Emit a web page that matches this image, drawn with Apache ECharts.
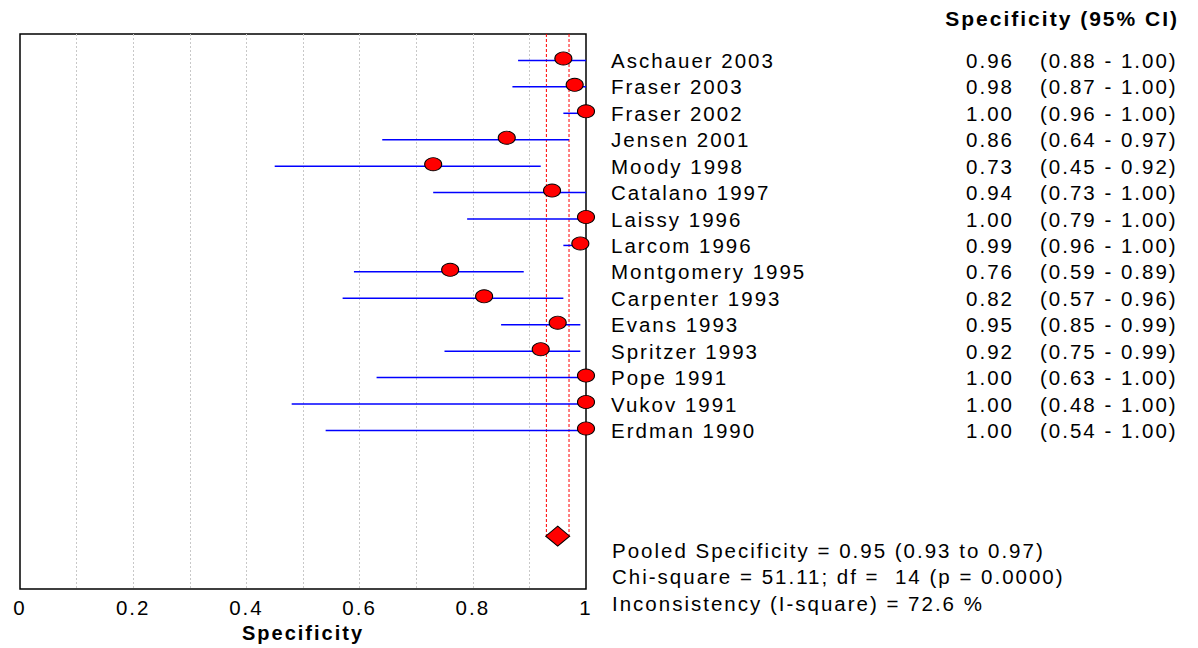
<!DOCTYPE html>
<html>
<head>
<meta charset="utf-8">
<script src="https://cdn.jsdelivr.net/npm/echarts@6/dist/echarts.min.js"></script>
<style>
  html, body { margin: 0; padding: 0; background: #fff; }
  #chart { width: 1198px; height: 648px; letter-spacing: 2px; }
</style>
</head>
<body>
<div id="chart"></div>
<script>
const studies = ['Aschauer 2003', 'Fraser 2003', 'Fraser 2002', 'Jensen 2001', 'Moody 1998',
  'Catalano 1997', 'Laissy 1996', 'Larcom 1996', 'Montgomery 1995', 'Carpenter 1993',
  'Evans 1993', 'Spritzer 1993', 'Pope 1991', 'Vukov 1991', 'Erdman 1990']
const spec = [0.96, 0.98, 1.00, 0.86, 0.73, 0.94, 1.00, 0.99, 0.76, 0.82, 0.95, 0.92, 1.00, 1.00, 1.00]
const ciLow = [0.88, 0.87, 0.96, 0.64, 0.45, 0.73, 0.79, 0.96, 0.59, 0.57, 0.85, 0.75, 0.63, 0.48, 0.54]
const ciHigh = [1.00, 1.00, 1.00, 0.97, 0.92, 1.00, 1.00, 1.00, 0.89, 0.96, 0.99, 0.99, 1.00, 1.00, 1.00]
const pooled = [0.95, 0.93, 0.97] // estimate, low, high
const chiSquare = 51.11
const df = 14
const pValue = '0.0000'
const iSquare = 72.6
const pooledRow = 19

const font = '"Liberation Sans", Arial, sans-serif'
const myChart = echarts.init(document.getElementById('chart'), null, { renderer: 'svg' })

const rowAxis = (label) => ({
  type: 'value',
  min: 0,
  max: 21,
  interval: 1,
  inverse: true,
  position: 'right',
  axisLine: { show: false },
  axisTick: { show: false },
  splitLine: { show: false },
  axisLabel: Object.assign({ color: '#000', fontSize: 20.5, fontFamily: font }, label)
})

myChart.setOption({
  animation: false,
  backgroundColor: '#fff',
  grid: {
    left: 20,
    right: 612,
    top: 34,
    bottom: 59,
    show: true,
    borderColor: '#000',
    borderWidth: 1.5,
    backgroundColor: 'transparent'
  },
  xAxis: {
    type: 'value',
    min: 0,
    max: 1,
    interval: 0.1,
    axisLine: { show: false },
    axisTick: { show: false },
    splitLine: {
      show: true,
      showMinLine: false,
      showMaxLine: false,
      lineStyle: { color: '#c8c8c8', type: [2, 2], width: 1 }
    },
    axisLabel: {
      color: '#000',
      fontSize: 20.5,
      fontFamily: font,
      margin: 8,
      formatter: (v) => Math.round(v * 10) % 2 === 0 ? String(+v.toFixed(1)) : ''
    },
    name: 'Specificity',
    nameLocation: 'middle',
    nameGap: 33,
    nameTextStyle: { color: '#000', fontSize: 20, fontWeight: 'bold', fontFamily: font }
  },
  yAxis: [
    {
      type: 'value',
      min: 0,
      max: 21,
      inverse: true,
      axisLine: { show: false },
      axisTick: { show: false },
      splitLine: { show: false },
      axisLabel: { show: false }
    },
    rowAxis({ margin: 25, align: 'left', formatter: (v) => studies[v - 1] || '' }),
    rowAxis({ margin: 428, align: 'right', formatter: (v) => spec[v - 1] !== undefined ? spec[v - 1].toFixed(2) : '' }),
    rowAxis({
      margin: 454,
      align: 'left',
      formatter: (v) => ciLow[v - 1] !== undefined
        ? '(' + ciLow[v - 1].toFixed(2) + ' - ' + ciHigh[v - 1].toFixed(2) + ')' : ''
    })
  ],
  graphic: [
    {
      type: 'text',
      x: 1179,
      y: 18,
      style: {
        text: 'Specificity (95% CI)',
        font: 'bold 21px ' + font,
        fill: '#000',
        textAlign: 'right',
        textVerticalAlign: 'middle'
      }
    },
    {
      type: 'text',
      x: 612,
      y: 550,
      style: {
        text: 'Pooled Specificity = ' + pooled[0].toFixed(2) + ' (' + pooled[1].toFixed(2) + ' to ' + pooled[2].toFixed(2) + ')',
        font: '20.5px ' + font,
        fill: '#000',
        textVerticalAlign: 'middle'
      }
    },
    {
      type: 'text',
      x: 612,
      y: 576,
      style: {
        text: 'Chi-square = ' + chiSquare.toFixed(2) + '; df =  ' + df + ' (p = ' + pValue + ')',
        font: '20.5px ' + font,
        fill: '#000',
        textVerticalAlign: 'middle'
      }
    },
    {
      type: 'text',
      x: 612,
      y: 603,
      style: {
        text: 'Inconsistency (I-square) = ' + iSquare.toFixed(1) + ' %',
        font: '20.5px ' + font,
        fill: '#000',
        textVerticalAlign: 'middle'
      }
    }
  ],
  series: [
    {
      name: 'CI',
      type: 'custom',
      xAxisIndex: 0,
      yAxisIndex: 0,
      clip: false,
      encode: { x: [0, 1], y: 2 },
      data: studies.map((s, i) => [ciLow[i], ciHigh[i], i + 1]),
      renderItem: (params, api) => {
        const a = api.coord([api.value(0), api.value(2)])
        const b = api.coord([api.value(1), api.value(2)])
        return {
          type: 'line',
          shape: { x1: a[0], y1: a[1], x2: b[0], y2: b[1] },
          style: { stroke: '#0000ff', lineWidth: 1.5 }
        }
      },
      z: 3
    },
    {
      name: 'pooledLow',
      type: 'line',
      symbol: 'none',
      data: [[pooled[1], 0], [pooled[1], pooledRow]],
      lineStyle: { color: '#ff0000', width: 1, type: [3, 2] },
      z: 2
    },
    {
      name: 'pooledHigh',
      type: 'line',
      symbol: 'none',
      data: [[pooled[2], 0], [pooled[2], pooledRow]],
      lineStyle: { color: '#ff0000', width: 1, type: [3, 2] },
      z: 2
    },
    {
      name: 'Specificity',
      type: 'scatter',
      clip: false,
      symbol: 'circle',
      symbolSize: [17, 13],
      symbolOffset: [0, -2],
      data: studies.map((s, i) => [spec[i], i + 1]),
      itemStyle: { color: '#ff0000', borderColor: '#000', borderWidth: 1, opacity: 1 },
      z: 4
    },
    {
      name: 'Pooled',
      type: 'scatter',
      clip: false,
      symbol: 'diamond',
      symbolSize: [24, 20],
      data: [[pooled[0], pooledRow]],
      itemStyle: { color: '#ff0000', borderColor: '#000', borderWidth: 1, opacity: 1 },
      z: 4
    }
  ]
})
window.addEventListener('resize', () => {
  myChart.resize()
})
</script>
</body>
</html>
